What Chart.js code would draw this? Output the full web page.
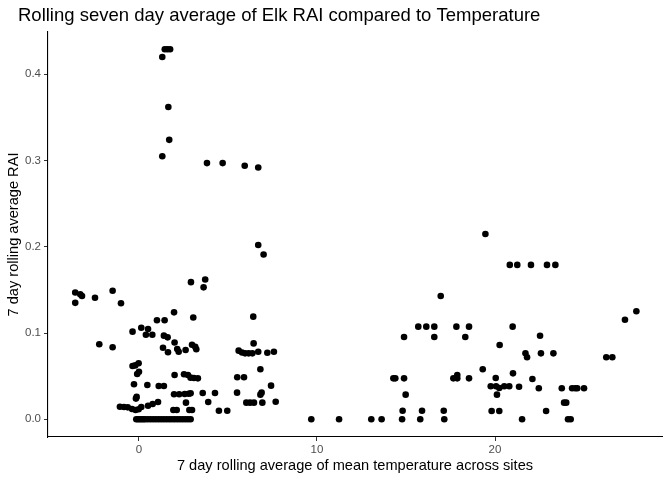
<!DOCTYPE html>
<html lang="en">
<head>
  <meta charset="UTF-8" />
  <title>Elk RAI vs Temperature</title>
  <style>
    body {
      margin: 0;
      background: #ffffff;
    }
    #wrap {
      width: 672px;
      height: 480px;
    }
  </style>
</head>
<body>
  <div id="wrap"><canvas id="elkChart" width="672" height="480"></canvas></div>

  <script src="https://cdn.jsdelivr.net/npm/chart.js"></script>
  <script>
    const chartTitle = "Rolling seven day average of Elk RAI compared to Temperature";
    const xTitle = "7 day rolling average of mean temperature across sites";
    const yTitle = "7 day rolling average RAI";
    const xTicks = [0, 10, 20];
    const yTicks = [0, 0.1, 0.2, 0.3, 0.4];

    // 7 day rolling mean temperature (x) and elk RAI (y)
    const tempC = [
      // top of the cold cluster
      1.45, 1.6, 1.75, 1.31, 1.65, 1.70, 1.31, 3.82, 4.70, 5.94, 6.70, 6.70, 7.0, 2.92, 3.72, 3.63,
      // cold cluster
      -3.58, -3.58, -3.3, -3.2, -2.47, -1.48, -1.01, -2.23, -1.48,
      -0.36, 0.13, 0.51, 0.39, 0.75, 1.01, 1.44, 1.40, 1.61, 1.35, 1.63, 1.97, 3.05,
      2.0, 2.15, 2.23, 2.62, 2.98, 3.16, 3.22,
      -0.36, -0.21, -0.02, -0.1, 0.0, -0.28, 0.47, 1.11, 1.40,
      2.0, 2.53, 2.75, 2.9, 3.09, 3.31, -0.13, -0.17,
      1.97, 2.26, 2.57, 2.79, 2.9, 3.58, 4.27, 2.64, 3.89,
      -1.07, -0.84, -0.63, -0.39, -0.19, -0.02, 0.13, 0.51, 0.77, 1.07,
      1.93, 2.12, 2.83, 2.98, 4.49, 4.96,
      -0.15, -0.05, 0.05, 0.15, 0.25, 0.35, 0.5, 0.65, 0.8, 0.95, 1.1, 1.25,
      1.4, 1.55, 1.7, 1.85, 2.0, 2.15, 2.3, 2.45, 2.6, 2.75, 2.9,
      // 5 - 8 degrees
      6.42, 6.44, 5.6, 5.79, 5.96, 6.16, 6.37, 6.70, 7.21, 7.58,
      5.52, 5.9, 6.82, 7.42, 5.51, 6.89, 6.82, 6.03, 6.24, 6.46, 6.93, 7.68,
      // warm cluster
      19.46, 20.83, 21.25, 22.02, 22.92, 23.39, 16.95,
      15.69, 16.14, 16.59, 17.83, 18.54, 20.99, 14.89, 16.59, 18.33,
      27.94, 27.3, 22.53, 20.26, 21.71, 21.80, 22.58, 23.28, 26.25, 26.59, 19.31,
      14.29, 14.4, 14.89, 17.66, 17.88, 17.88, 18.54, 20.04, 21.01, 22.1, 14.98,
      19.76, 20.06, 20.24, 20.52, 20.80, 21.35, 20.11,
      22.46, 23.75, 24.33, 24.51, 24.62, 25.0, 23.88, 24.0,
      14.81, 15.9, 17.12, 19.81, 20.24, 22.87,
      9.68, 11.24, 13.05, 13.63, 14.78, 15.80, 17.15, 21.52, 24.1, 24.25
    ];

    const elkRai = [
      0.429, 0.429, 0.429, 0.420, 0.362, 0.324, 0.305, 0.297, 0.297, 0.294, 0.292, 0.202, 0.191, 0.159, 0.162, 0.153,
      0.147, 0.135, 0.145, 0.143, 0.141, 0.149, 0.1345, 0.087, 0.0835,
      0.1016, 0.1062, 0.1047, 0.098, 0.098, 0.1148, 0.1148, 0.097, 0.095, 0.083, 0.0777, 0.124, 0.118,
      0.089, 0.0815, 0.0784, 0.0803, 0.0865, 0.0842, 0.0812,
      0.0618, 0.0625, 0.065, 0.0525, 0.055, 0.0406, 0.0398, 0.0386, 0.0386,
      0.0514, 0.0522, 0.0514, 0.0483, 0.0479, 0.0475, 0.026, 0.024,
      0.029, 0.029, 0.0293, 0.0297, 0.0301, 0.0305, 0.0305, 0.0193, 0.0201,
      0.0146, 0.0143, 0.0139, 0.0119, 0.0108, 0.0116, 0.0143, 0.0158, 0.0177, 0.0201,
      0.0108, 0.0108, 0.0108, 0.0108, 0.01, 0.01,
      0, 0, 0, 0, 0, 0, 0, 0, 0, 0, 0, 0,
      0, 0, 0, 0, 0, 0, 0, 0, 0, 0, 0,
      0.119, 0.088, 0.0796, 0.0775, 0.0765, 0.0765, 0.0765, 0.0784, 0.0772, 0.0784,
      0.0487, 0.0487, 0.058, 0.039, 0.0309, 0.0309, 0.0286, 0.0193, 0.0193, 0.0193, 0.0193, 0.0204,
      0.2148, 0.179, 0.179, 0.179, 0.179, 0.179, 0.143,
      0.1074, 0.1074, 0.1074, 0.1074, 0.1074, 0.1074, 0.0954, 0.0954, 0.0954,
      0.1252, 0.1155, 0.0969, 0.0861, 0.0765, 0.0719, 0.0765, 0.0765, 0.0719, 0.0719, 0.058,
      0.0475, 0.0475, 0.0475, 0.0475, 0.0514, 0.0475, 0.0475, 0.0479, 0.0533, 0.0467, 0.0286,
      0.0383, 0.0383, 0.0363, 0.0383, 0.0383, 0.0378, 0.0286,
      0.036, 0.036, 0.036, 0.036, 0.036, 0.036, 0.0193, 0.0193,
      0.01, 0.01, 0.01, 0.0096, 0.0096, 0.0096,
      0, 0, 0, 0, 0, 0, 0, 0, 0, 0
    ];

    const FONT = '"Liberation Sans", Arial, Helvetica, sans-serif';

    // ggplot-style title drawn at the top-left of the figure
    const plotTitle = {
      id: "plotTitle",
      afterDraw(chart) {
        const ctx = chart.ctx;
        ctx.save();
        ctx.font = "18.5px " + FONT;
        ctx.fillStyle = "#000";
        ctx.textAlign = "left";
        ctx.textBaseline = "alphabetic";
        ctx.fillText(chartTitle, 18, 21);
        ctx.restore();
      }
    };

    const points = tempC.map((t, i) => ({ x: t, y: elkRai[i] }));

    new Chart(document.getElementById("elkChart"), {
      type: "scatter",
      data: {
        datasets: [{
          data: points,
          backgroundColor: "#000",
          borderWidth: 0,
          pointRadius: 3.3,
          pointHoverRadius: 3.3
        }]
      },
      options: {
        responsive: false,
        animation: false,
        layout: { padding: { top: 32, right: 10, bottom: 0, left: 0 } },
        plugins: {
          legend: { display: false },
          tooltip: { enabled: false }
        },
        scales: {
          x: {
            type: "linear",
            min: -5.11,
            max: 29.38,
            afterBuildTicks: (scale) => { scale.ticks = xTicks.map(v => ({ value: v })); },
            afterFit: (scale) => { scale.height = 43; },
            border: { display: true, color: "#000", width: 1.1 },
            grid: { display: true, drawOnChartArea: false, drawTicks: true, tickLength: 4, color: "#333" },
            ticks: {
              color: "#4d4d4d",
              padding: 2,
              font: { family: FONT, size: 11.5 },
              maxRotation: 0,
              callback: (v) => String(v)
            },
            title: {
              display: true,
              text: xTitle,
              color: "#000",
              font: { family: FONT, size: 14.6 },
              padding: { top: 0, bottom: 5 }
            }
          },
          y: {
            type: "linear",
            min: -0.0205,
            max: 0.449,
            afterBuildTicks: (scale) => { scale.ticks = yTicks.map(v => ({ value: v })); },
            afterFit: (scale) => { scale.width = 48; },
            border: { display: true, color: "#000", width: 1.1 },
            grid: { display: true, drawOnChartArea: false, drawTicks: true, tickLength: 4, color: "#333" },
            ticks: {
              color: "#4d4d4d",
              padding: 3,
              font: { family: FONT, size: 11.5 },
              callback: (v) => Number(v).toFixed(1)
            },
            title: {
              display: true,
              text: yTitle,
              color: "#000",
              font: { family: FONT, size: 14.6 },
              padding: { top: 5, bottom: 0 }
            }
          }
        }
      },
      plugins: [plotTitle]
    });
  </script>
</body>
</html>
